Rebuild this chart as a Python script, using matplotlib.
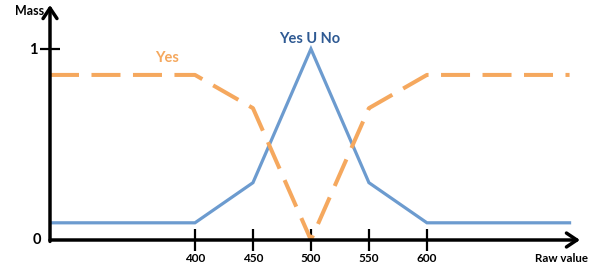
import matplotlib.pyplot as plt

plt.rcParams['font.family'] = ['Lato', 'DejaVu Sans']

# membership curves
raw = [275, 400, 450, 500, 550, 600, 723]
yes_no = [0.09, 0.09, 0.30, 1.0, 0.30, 0.09, 0.09]
yes = [0.864, 0.864, 0.69, 0.0, 0.69, 0.864, 0.864]
xticks = [400, 450, 500, 550, 600]

W, H = 602, 276
fig = plt.figure(figsize=(W / 100, H / 100), dpi=100)
ax = fig.add_axes([50 / W, 36 / H, 530 / W, 235 / H])
ax.set_xlim(275, 732)
ax.set_ylim(0, 1.23)

orange = '#F5A85E'
blue = '#6C9BCF'

ax.plot(raw, yes_no, color=blue, lw=2.3, solid_joinstyle='miter', zorder=3)
ax.plot(raw, yes, color=orange, lw=2.9, linestyle=(0, (7.2, 3.1)), zorder=3)

for s in ax.spines.values():
    s.set_visible(False)

# axes with arrow heads
arrow = dict(arrowstyle='->,head_length=0.75,head_width=0.5', lw=2.5, color='black',
             shrinkA=0, shrinkB=0)
ax.annotate('', xy=(1, 0), xytext=(0, 0), xycoords='axes fraction', arrowprops=arrow, zorder=4)
ax.annotate('', xy=(0, 1), xytext=(0, -0.006), xycoords='axes fraction', arrowprops=arrow, zorder=4)

ax.set_xticks(xticks)
ax.set_xticklabels([str(v) for v in xticks], fontsize=8.5, fontweight='bold')
ax.tick_params(axis='x', direction='inout', length=16, width=1.6, pad=1)
ax.set_yticks([1])
ax.set_yticklabels(['1'], fontsize=10.5, fontweight='bold')
ax.tick_params(axis='y', direction='inout', length=14, width=1.6, pad=2)

ax.text(-0.016, 0, '0', transform=ax.get_yaxis_transform(), ha='right', va='center',
        fontsize=10.5, fontweight='bold')
fig.text(44 / W, 1 - 11 / H, 'Mass', ha='right', va='center', fontsize=9, fontweight='bold')
fig.text(588 / W, 1 - 259 / H, 'Raw value', ha='right', va='center', fontsize=8.3, fontweight='bold')

ax.text(376, 0.95, 'Yes', color=orange, ha='center', va='center', fontsize=10.5, fontweight='bold')
ax.text(499, 1.05, 'Yes U No', color='#2F5A93', ha='center', va='center', fontsize=10.5,
        fontweight='bold')

fig.savefig('out.png', dpi=100)
